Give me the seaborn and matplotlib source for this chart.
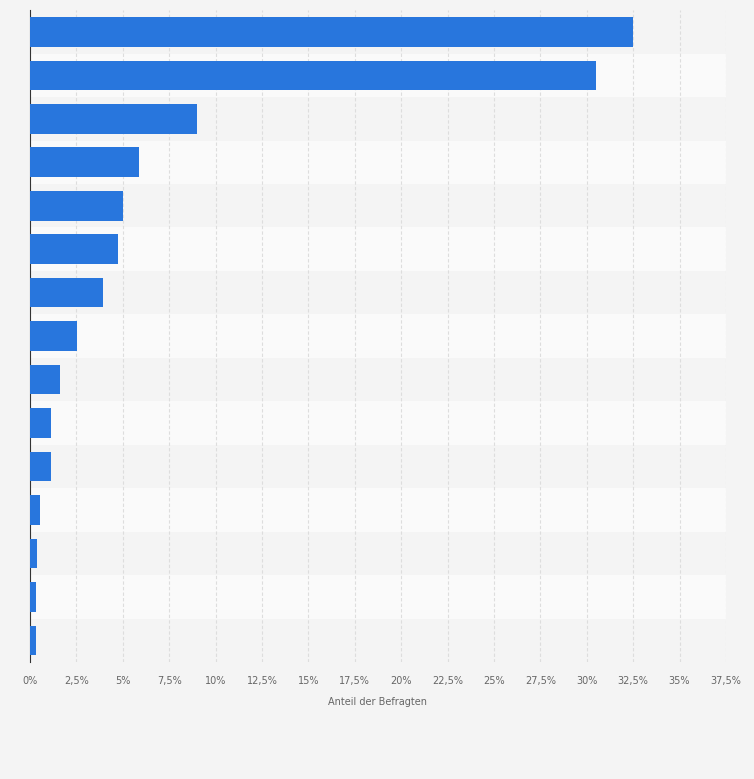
import matplotlib
matplotlib.use("Agg")
import matplotlib.pyplot as plt
import seaborn as sns
import pandas as pd

categories = [f"Kategorie {i}" for i in range(1, 16)]
values = [32.5, 30.5, 9.0, 5.85, 5.0, 4.75, 3.95, 2.55, 1.6, 1.15, 1.15, 0.55, 0.35, 0.3, 0.3]
ticks = [0, 2.5, 5, 7.5, 10, 12.5, 15, 17.5, 20, 22.5, 25, 27.5, 30, 32.5, 35, 37.5]
tick_labels = [f"{t:g}%".replace(".", ",") for t in ticks]

df = pd.DataFrame({"cat": categories, "val": values})

fig = plt.figure(figsize=(7.54, 7.79), dpi=100)
fig.patch.set_facecolor("#f4f4f4")
ax = fig.add_axes([0.0398, 0.150, 0.923, 0.837])
ax.set_facecolor("#f4f4f4")

for i in range(len(categories)):
    ax.axhspan(i - 0.5, i + 0.5, color="#f4f4f4" if i % 2 == 0 else "#fafafa", zorder=0, lw=0)

sns.barplot(data=df, x="val", y="cat", color="#2876dd", width=0.68, ax=ax, zorder=3, saturation=1)

ax.set_xlim(0, 37.5)
ax.set_ylim(len(categories) - 0.5, -0.5)
ax.set_xticks(ticks)
ax.set_xticklabels(tick_labels, fontsize=7, color="#666666")
ax.set_yticks([])
ax.set_ylabel("")
ax.set_xlabel("Anteil der Befragten", fontsize=7, color="#666666", labelpad=8)
ax.tick_params(axis="x", length=0, pad=10)
for t in ticks[1:]:
    ax.axvline(t, color="#dddddd", lw=0.8, ls=(0, (3, 2)), zorder=1)
for s in ["top", "right", "bottom"]:
    ax.spines[s].set_visible(False)
ax.spines["left"].set_color("#333333")
ax.spines["left"].set_linewidth(0.8)

fig.savefig("out.png", dpi=100, facecolor=fig.get_facecolor())
